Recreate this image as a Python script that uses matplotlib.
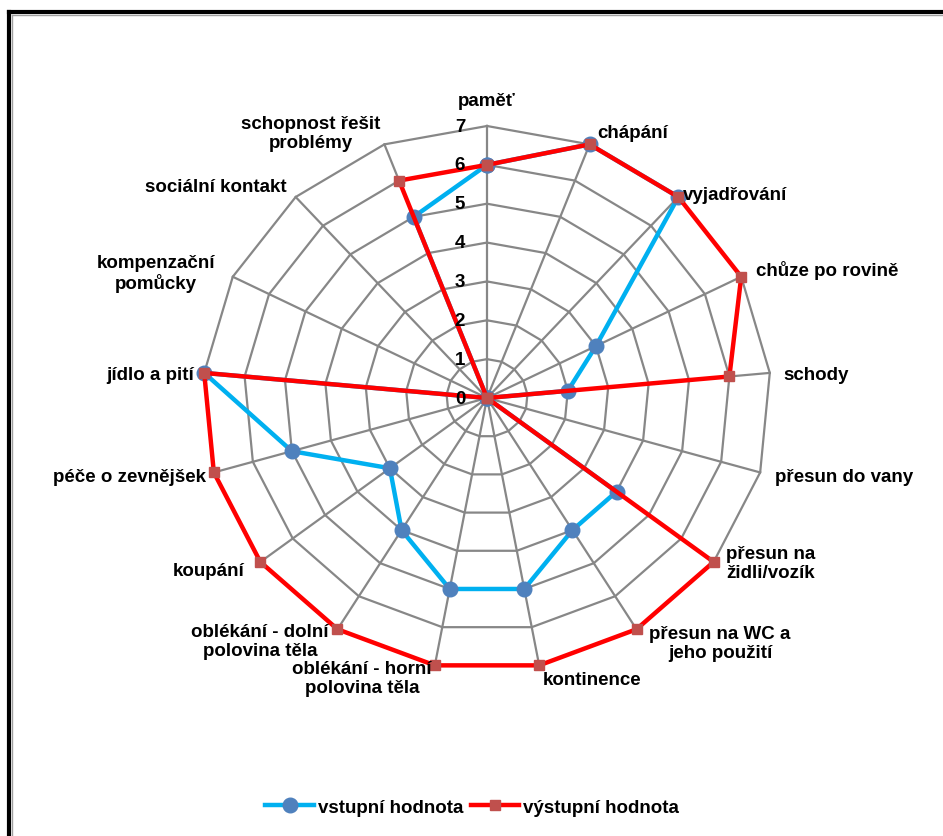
import numpy as np
import matplotlib.pyplot as plt
from matplotlib.lines import Line2D
import matplotlib.transforms as mtransforms

plt.rcParams['font.family'] = ['Liberation Sans', 'DejaVu Sans']

# categories clockwise from the top
categories = ['paměť', 'chápání', 'vyjadřování', 'chůze po rovině', 'schody',
              'přesun do vany', 'přesun na\nžidli/vozík', 'přesun na WC a\njeho použití',
              'kontinence', 'oblékání - horní\npolovina těla', 'oblékání - dolní\npolovina těla',
              'koupání', 'péče o zevnějšek', 'jídlo a pití', 'kompenzační\npomůcky',
              'sociální kontakt', 'schopnost řešit\nproblémy']
vstup = [6, 7, 7, 3, 2, 0, 4, 4, 5, 5, 4, 3, 5, 7, 0, 0, 5]
vystup = [6, 7, 7, 7, 6, 0, 7, 7, 7, 7, 7, 7, 7, 7, 0, 0, 6]
rticks = [0, 1, 2, 3, 4, 5, 6, 7]

W, H = 943, 837
fig = plt.figure(figsize=(W / 100, H / 100), dpi=100)

cx, cy = 487, 399
rx, ry = 284, 272
ax = fig.add_axes([(cx - rx) / W, (H - cy - ry) / H, 2 * rx / W, 2 * ry / H],
                  projection='polar')
ax.set_aspect('auto')
ax.set_theta_zero_location('N')
ax.set_theta_direction(-1)
ax.set_ylim(0, 7)
ax.grid(False)
ax.spines['polar'].set_visible(False)
ax.set_xticks([])
ax.set_yticks([])
ax.patch.set_alpha(0)

n = len(categories)
theta = np.arange(n) * 2 * np.pi / n
theta_c = np.append(theta, theta[0])

grid_col = '#878787'
# polygon gridlines
for r in rticks[1:]:
    ax.plot(theta_c, [r] * (n + 1), color=grid_col, lw=1.6, zorder=1, clip_on=False)
# spokes
for t in theta:
    ax.plot([t, t], [0, 7], color=grid_col, lw=1.6, zorder=1, clip_on=False)

ax.plot(theta_c, vstup + vstup[:1], color='#00B0F0', lw=3.2, marker='o',
        markersize=10.5, markerfacecolor='#4F81BD', markeredgecolor='#4F81BD',
        zorder=3, label='vstupní hodnota', clip_on=False)
ax.plot(theta_c, vystup + vystup[:1], color='#FF0000', lw=3.2, marker='s',
        markersize=7, markerfacecolor='#C0504D', markeredgecolor='#C0504D',
        zorder=4, label='výstupní hodnota', clip_on=False)

# radial tick labels left of the top spoke
off = mtransforms.offset_copy(ax.transData, fig=fig, x=-27, y=0, units='dots')
for r in rticks:
    ax.text(0, r, str(r), transform=off, ha='center', va='center',
            fontsize=13.5, fontweight='bold', color='black', zorder=5)

# category label anchors (pixels) and alignment
label_pos = [(487, 101, 'center'), (597, 133, 'left'), (683, 195, 'left'),
             (756, 271, 'left'), (783, 376, 'left'), (775, 478, 'left'),
             (726, 564, 'left'), (720, 644, 'center'), (592, 681, 'center'),
             (362, 679, 'center'), (260, 642, 'center'), (245, 571, 'right'),
             (206, 477, 'right'), (194, 376, 'right'), (156, 274, 'center'),
             (216, 188, 'center'), (311, 134, 'center')]
for lab, (x, y, ha) in zip(categories, label_pos):
    fig.text(x / W, 1 - y / H, lab, ha=ha, va='center', fontsize=13.5,
             fontweight='bold', color='black', linespacing=1.1, multialignment='center')

fig.legend(loc='center', bbox_to_anchor=(472 / W, 1 - 808 / H), ncol=2,
           frameon=False, handlelength=2.6, columnspacing=0.4,
           handletextpad=0.2, prop={'weight': 'bold', 'size': 13.5})

# chart frame (left and top edges visible)
fig.add_artist(Line2D([9 / W, 9 / W], [0, 1 - 13 / H], color='black', lw=3,
                      transform=fig.transFigure))
fig.add_artist(Line2D([9 / W, 1], [1 - 13 / H, 1 - 13 / H], color='black', lw=3,
                      transform=fig.transFigure))
fig.add_artist(Line2D([11.5 / W, 11.5 / W], [0, 1 - 15.5 / H], color='#A0A0A0', lw=1,
                      transform=fig.transFigure))
fig.add_artist(Line2D([11.5 / W, 1], [1 - 15.5 / H, 1 - 15.5 / H], color='#A0A0A0', lw=1,
                      transform=fig.transFigure))

fig.savefig('out.png', dpi=100, facecolor='white')
